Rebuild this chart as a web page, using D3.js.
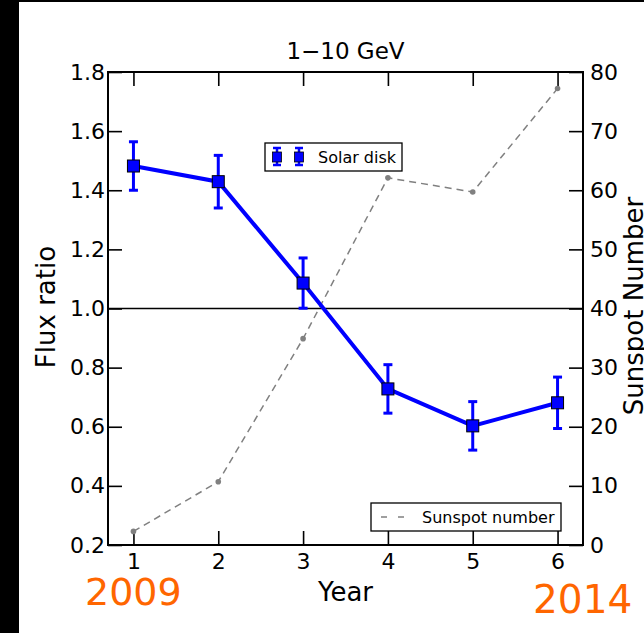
<!DOCTYPE html>
<html>
<head>
<meta charset="utf-8">
<script src="https://cdn.jsdelivr.net/npm/d3@7"></script>
<style>
  html, body { margin: 0; padding: 0; background: #fff; }
  svg { display: block; font-family: "DejaVu Sans", sans-serif; }
</style>
</head>
<body>
<div id="chart"></div>
<script>
// --- data ---
const years = [1, 2, 3, 4, 5, 6];
const fluxRatio = [1.482, 1.429, 1.086, 0.728, 0.603, 0.681];
const fluxErr = [0.082, 0.089, 0.085, 0.082, 0.082, 0.087];
const sunspots = [2.3, 10.7, 34.9, 62.1, 59.7, 77.2];
const leftTicks = [0.2, 0.4, 0.6, 0.8, 1.0, 1.2, 1.4, 1.6, 1.8];
const rightTicks = [0, 10, 20, 30, 40, 50, 60, 70, 80];
const yearLabels = ["2009", "2014"];

const width = 644, height = 633;
const margin = { top: 72, right: 61, bottom: 88, left: 108 };
const innerWidth = width - margin.left - margin.right;
const innerHeight = height - margin.top - margin.bottom;
const tickLen = 14;
const tickFont = 22;
const labelFont = 26;

const svg = d3.select('#chart').append('svg')
    .attr('width', width)
    .attr('height', height);

// black frame bits on the screenshot edge
svg.append('rect').attr('x', 0).attr('y', 0).attr('width', 19).attr('height', height).attr('fill', '#000');
svg.append('rect').attr('x', 0).attr('y', 0).attr('width', width).attr('height', 2).attr('fill', '#000');

const g = svg.append('g').attr('transform', `translate(${margin.left},${margin.top})`);

// scales
const x = d3.scaleLinear().domain([0.7, 6.3]).range([0, innerWidth]);
const yL = d3.scaleLinear().domain([0.2, 1.8]).range([innerHeight, 0]);
const yR = d3.scaleLinear().domain([0, 80]).range([innerHeight, 0]);

// axes (ticks pointing inward, matplotlib classic look)
const styleAxis = (sel) => {
    sel.select('.domain').remove();
    sel.selectAll('line').attr('stroke', '#000').attr('stroke-width', 1.6);
    sel.selectAll('text').attr('fill', '#000').attr('font-size', tickFont).attr('font-family', '"DejaVu Sans", sans-serif');
};

g.append('g')
    .attr('transform', `translate(0,${innerHeight})`)
    .call(d3.axisBottom(x).tickValues(years).tickFormat(d3.format('d')).tickSizeInner(-tickLen).tickSizeOuter(0).tickPadding(8))
    .call(styleAxis);

g.append('g')
    .call(d3.axisTop(x).tickValues(years).tickSizeInner(-tickLen).tickSizeOuter(0))
    .call(styleAxis)
    .call(s => s.selectAll('text').remove());

g.append('g')
    .call(d3.axisLeft(yL).tickValues(leftTicks).tickFormat(d3.format('.1f')).tickSizeInner(-tickLen).tickSizeOuter(0).tickPadding(3))
    .call(styleAxis);

g.append('g')
    .attr('transform', `translate(${innerWidth},0)`)
    .call(d3.axisRight(yR).tickValues(rightTicks).tickFormat(d3.format('d')).tickSizeInner(-tickLen).tickSizeOuter(0).tickPadding(7))
    .call(styleAxis);

// frame
g.append('rect')
    .attr('width', innerWidth).attr('height', innerHeight)
    .attr('fill', 'none').attr('stroke', '#000').attr('stroke-width', 2);

// reference line at ratio 1
g.append('line')
    .attr('x1', 0).attr('x2', innerWidth)
    .attr('y1', yL(1)).attr('y2', yL(1))
    .attr('stroke', '#000').attr('stroke-width', 1.3);

// sunspot number (right axis)
const ssData = years.map((yr, i) => ({ yr, v: sunspots[i] }));
g.append('path')
    .datum(ssData)
    .attr('fill', 'none')
    .attr('stroke', '#808080')
    .attr('stroke-width', 1.5)
    .attr('stroke-dasharray', '7,5')
    .attr('d', d3.line().x(d => x(d.yr)).y(d => yR(d.v)));
g.selectAll('circle.ss')
    .data(ssData)
    .join('circle')
    .attr('class', 'ss')
    .attr('cx', d => x(d.yr)).attr('cy', d => yR(d.v))
    .attr('r', 2.8)
    .attr('fill', '#808080');

// flux ratio with error bars
const fxData = years.map((yr, i) => ({ yr, v: fluxRatio[i], e: fluxErr[i] }));
g.append('path')
    .datum(fxData)
    .attr('fill', 'none')
    .attr('stroke', '#0000ff')
    .attr('stroke-width', 4)
    .attr('d', d3.line().x(d => x(d.yr)).y(d => yL(d.v)));

const eb = g.selectAll('g.eb').data(fxData).join('g').attr('class', 'eb');
eb.append('line')
    .attr('x1', d => x(d.yr)).attr('x2', d => x(d.yr))
    .attr('y1', d => yL(d.v - d.e)).attr('y2', d => yL(d.v + d.e))
    .attr('stroke', '#0000ff').attr('stroke-width', 3);
eb.selectAll('line.cap')
    .data(d => [d.v - d.e, d.v + d.e].map(val => ({ yr: d.yr, val })))
    .join('line')
    .attr('class', 'cap')
    .attr('x1', d => x(d.yr) - 4.5).attr('x2', d => x(d.yr) + 4.5)
    .attr('y1', d => yL(d.val)).attr('y2', d => yL(d.val))
    .attr('stroke', '#0000ff').attr('stroke-width', 3);
eb.append('rect')
    .attr('x', d => x(d.yr) - 6).attr('y', d => yL(d.v) - 6)
    .attr('width', 12).attr('height', 12)
    .attr('fill', '#0000ff').attr('stroke', '#000').attr('stroke-width', 1);

// legend: Solar disk
const lg1 = svg.append('g').attr('transform', 'translate(265,143)');
lg1.append('rect').attr('width', 137).attr('height', 28)
    .attr('fill', '#fff').attr('stroke', '#000').attr('stroke-width', 1.3);
[12, 34].forEach(cx => {
    lg1.append('line').attr('x1', cx).attr('x2', cx).attr('y1', 5).attr('y2', 22)
        .attr('stroke', '#0000ff').attr('stroke-width', 2.5);
    [5, 22].forEach(cy => lg1.append('line').attr('x1', cx - 4).attr('x2', cx + 4).attr('y1', cy).attr('y2', cy)
        .attr('stroke', '#0000ff').attr('stroke-width', 2.5));
    lg1.append('rect').attr('x', cx - 4.5).attr('y', 9).attr('width', 9).attr('height', 10)
        .attr('fill', '#0000ff').attr('stroke', '#000').attr('stroke-width', 0.8);
});
lg1.append('text').attr('x', 53).attr('y', 20)
    .attr('font-size', 16).attr('fill', '#000').text('Solar disk');

// legend: Sunspot number
const lg2 = svg.append('g').attr('transform', 'translate(371,503)');
lg2.append('rect').attr('width', 190).attr('height', 28)
    .attr('fill', '#fff').attr('stroke', '#000').attr('stroke-width', 1.3);
lg2.append('line').attr('x1', 10).attr('x2', 34).attr('y1', 14).attr('y2', 14)
    .attr('stroke', '#808080').attr('stroke-width', 1.5).attr('stroke-dasharray', '6,11');
lg2.append('text').attr('x', 51).attr('y', 20)
    .attr('font-size', 16).attr('fill', '#000').text('Sunspot number');

// titles
svg.append('text')
    .attr('x', margin.left + innerWidth / 2).attr('y', 59)
    .attr('text-anchor', 'middle').attr('font-size', 23).attr('fill', '#000')
    .text('1\u221210 GeV');

svg.append('text')
    .attr('x', margin.left + innerWidth / 2).attr('y', 601)
    .attr('text-anchor', 'middle').attr('font-size', labelFont).attr('fill', '#000')
    .text('Year');

svg.append('text')
    .attr('transform', `translate(55,307) rotate(-90)`)
    .attr('text-anchor', 'middle').attr('font-size', labelFont).attr('fill', '#000')
    .text('Flux ratio');

svg.append('text')
    .attr('transform', `translate(643,306) rotate(-90)`)
    .attr('text-anchor', 'middle').attr('font-size', labelFont).attr('fill', '#000')
    .text('Sunspot Number');

// orange year annotations
svg.append('text').attr('x', 85).attr('y', 605)
    .attr('font-size', 38).attr('fill', '#ff6600').text(yearLabels[0]);
svg.append('text').attr('x', 533).attr('y', 613)
    .attr('font-size', 39).attr('fill', '#ff6600').text(yearLabels[1]);
</script>
</body>
</html>
